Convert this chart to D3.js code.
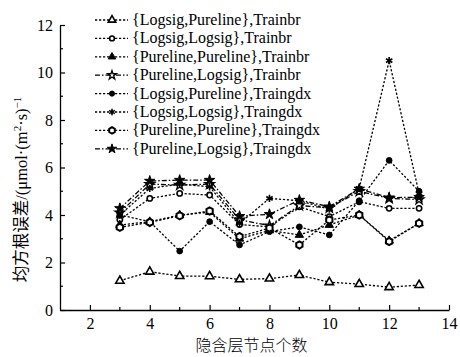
<!DOCTYPE html>
<html>
<head>
<meta charset="utf-8">
<script src="https://cdn.jsdelivr.net/npm/d3@7"></script>
<style>
  body { margin: 0; background: #fff; }
  text { font-family: "Liberation Serif", "Times New Roman", serif; }
</style>
</head>
<body>
<div id="chart"></div>
<script>
// hidden-layer node counts
const nodes = [3, 4, 5, 6, 7, 8, 9, 10, 11, 12, 13];

const names = [
  "{Logsig,Pureline},Trainbr",
  "{Logsig,Logsig},Trainbr",
  "{Pureline,Pureline},Trainbr",
  "{Pureline,Logsig},Trainbr",
  "{Logsig,Pureline},Traingdx",
  "{Logsig,Logsig},Traingdx",
  "{Pureline,Pureline},Traingdx",
  "{Pureline,Logsig},Traingdx"
];

// RMSE values
const lpTrainbr  = [1.23, 1.61, 1.43, 1.42, 1.29, 1.32, 1.47, 1.17, 1.09, 0.96, 1.05];
const llTrainbr  = [3.80, 4.70, 4.91, 4.84, 3.60, 3.50, 4.35, 3.93, 4.56, 4.28, 4.28];
const ppTrainbr  = [3.58, 3.72, 4.00, 4.12, 3.00, 3.35, 3.16, 3.58, 4.00, 2.92, 3.65];
const plTrainbr  = [4.10, 5.30, 5.26, 5.30, 3.80, 3.55, 4.40, 4.30, 5.00, 4.70, 4.65];
const lpTraingdx = [4.00, 3.72, 2.48, 3.72, 2.74, 3.30, 3.50, 3.16, 4.60, 6.30, 5.00];
const llTraingdx = [4.00, 5.12, 5.30, 5.19, 3.65, 4.70, 4.60, 4.25, 5.12, 10.50, 4.90];
const ppTraingdx = [3.48, 3.69, 3.97, 4.17, 3.09, 3.45, 2.74, 3.79, 4.00, 2.88, 3.65];
const plTraingdx = [4.28, 5.43, 5.47, 5.47, 3.95, 4.03, 4.63, 4.35, 5.10, 4.73, 4.75];

const seriesValues = [lpTrainbr, llTrainbr, ppTrainbr, plTrainbr,
                      lpTraingdx, llTraingdx, ppTraingdx, plTraingdx];

const xTicks = [2, 4, 6, 8, 10, 12, 14];
const yTicks = [0, 2, 4, 6, 8, 10, 12];

const width = 460, height = 357;
const margin = {left: 60, right: 11, top: 25, bottom: 47};

const x = d3.scaleLinear().domain([1, 14]).range([margin.left, width - margin.right]);
const y = d3.scaleLinear().domain([0, 12]).range([height - margin.bottom, margin.top]);

// marker + line style per series
const hexagon = {
  draw(ctx, size) {
    const r = Math.sqrt(size / 2.6);
    for (let i = 0; i < 6; i++) {
      const a = Math.PI / 6 + i * Math.PI / 3;
      if (i === 0) ctx.moveTo(r * Math.cos(a), r * Math.sin(a));
      else ctx.lineTo(r * Math.cos(a), r * Math.sin(a));
    }
    ctx.closePath();
  }
};
const styles = [
  {type: d3.symbolTriangle, size: 30, fill: "#fff", sw: 1.6, dash: "2.2,1.8"},
  {type: d3.symbolCircle,   size: 22, fill: "#fff", sw: 1.6, dash: "2.2,1.8"},
  {type: d3.symbolTriangle, size: 30, fill: "#000", sw: 1,   dash: "2.2,1.8"},
  {type: d3.symbolStar,     size: 30, fill: "#fff", sw: 1.3, dash: "5,2,1.5,2"},
  {type: d3.symbolCircle,   size: 26, fill: "#000", sw: 1,   dash: "2.2,1.8"},
  {type: d3.symbolAsterisk, size: 38, fill: "none", sw: 1.6, dash: "2.2,1.8"},
  {type: hexagon,           size: 34, fill: "#fff", sw: 2,   dash: "2.2,1.8"},
  {type: d3.symbolStar,     size: 34, fill: "#000", sw: 1,   dash: "5,2,1.5,2"}
];

const svg = d3.select("#chart").append("svg")
  .attr("width", width)
  .attr("height", height);

// axes, ticks point inward
const xAxis = d3.axisBottom(x).tickValues(xTicks).tickSize(-5).tickPadding(8).tickSizeOuter(0);
const yAxis = d3.axisLeft(y).tickValues(yTicks).tickSize(-5).tickPadding(7).tickSizeOuter(0);

const gx = svg.append("g").attr("transform", `translate(0,${y(0)})`).call(xAxis);
const gy = svg.append("g").attr("transform", `translate(${x(1)},0)`).call(yAxis);
[gx, gy].forEach(g => {
  g.select(".domain").attr("stroke", "#000").attr("stroke-width", 1.3);
  g.selectAll(".tick line").attr("stroke", "#000").attr("stroke-width", 1.2);
  g.selectAll(".tick text").attr("fill", "#000")
    .style("font-family", "'Liberation Serif', serif").style("font-size", "16px");
});

// minor ticks at odd values
svg.append("g").selectAll("line")
  .data(d3.range(3, 14, 2))
  .join("line")
  .attr("x1", d => x(d)).attr("x2", d => x(d))
  .attr("y1", y(0)).attr("y2", y(0) - 3)
  .attr("stroke", "#000").attr("stroke-width", 1.2);
svg.append("g").selectAll("line")
  .data(d3.range(1, 12, 2))
  .join("line")
  .attr("x1", x(1)).attr("x2", x(1) + 3)
  .attr("y1", d => y(d)).attr("y2", d => y(d))
  .attr("stroke", "#000").attr("stroke-width", 1.2);

// axis titles
svg.append("text")
  .attr("x", (x(1) + x(14)) / 2 - 3)
  .attr("y", height - 6)
  .attr("text-anchor", "middle")
  .style("font-size", "16px")
  .style("font-family", "'Noto Sans CJK SC', 'Liberation Serif', serif")
  .style("font-weight", 300)
  .text("隐含层节点个数");

svg.append("text")
  .attr("transform", `translate(27,${(y(0) + y(12)) / 2 + 22}) rotate(-90)`)
  .attr("text-anchor", "middle")
  .style("font-size", "16.5px")
  .style("font-family", "'Liberation Serif', 'Noto Sans CJK SC', serif")
  .html('均方根误差/(μmol·(m<tspan dy="-6" font-size="11px">2</tspan><tspan dy="6">·s)</tspan><tspan dy="-6" font-size="11px">−1</tspan>');

const line = d3.line().x((d, i) => x(nodes[i])).y(d => y(d));

// series lines and markers
seriesValues.forEach((vals, k) => {
  const s = styles[k];
  const g = svg.append("g");
  g.append("path")
    .attr("d", line(vals))
    .attr("fill", "none")
    .attr("stroke", "#000")
    .attr("stroke-width", 1.3)
    .attr("stroke-dasharray", s.dash);
  g.selectAll("path.m")
    .data(vals)
    .join("path")
    .attr("class", "m")
    .attr("transform", (d, i) => `translate(${x(nodes[i])},${y(d)})`)
    .attr("d", d3.symbol().type(s.type).size(s.size))
    .attr("fill", s.fill)
    .attr("stroke", "#000")
    .attr("stroke-width", s.sw);
});

// legend
const legend = svg.append("g");
names.forEach((name, k) => {
  const s = styles[k];
  const ly = 20 + k * 18.4;
  legend.append("line")
    .attr("x1", 95).attr("x2", 128)
    .attr("y1", ly).attr("y2", ly)
    .attr("stroke", "#000").attr("stroke-width", 1.3)
    .attr("stroke-dasharray", s.dash);
  legend.append("path")
    .attr("transform", `translate(112,${ly})`)
    .attr("d", d3.symbol().type(s.type).size(s.size * 0.8))
    .attr("fill", s.fill)
    .attr("stroke", "#000")
    .attr("stroke-width", s.sw);
  legend.append("text")
    .attr("x", 132).attr("y", ly + 5)
    .style("font-size", "16px")
    .text(name);
});
</script>
</body>
</html>
